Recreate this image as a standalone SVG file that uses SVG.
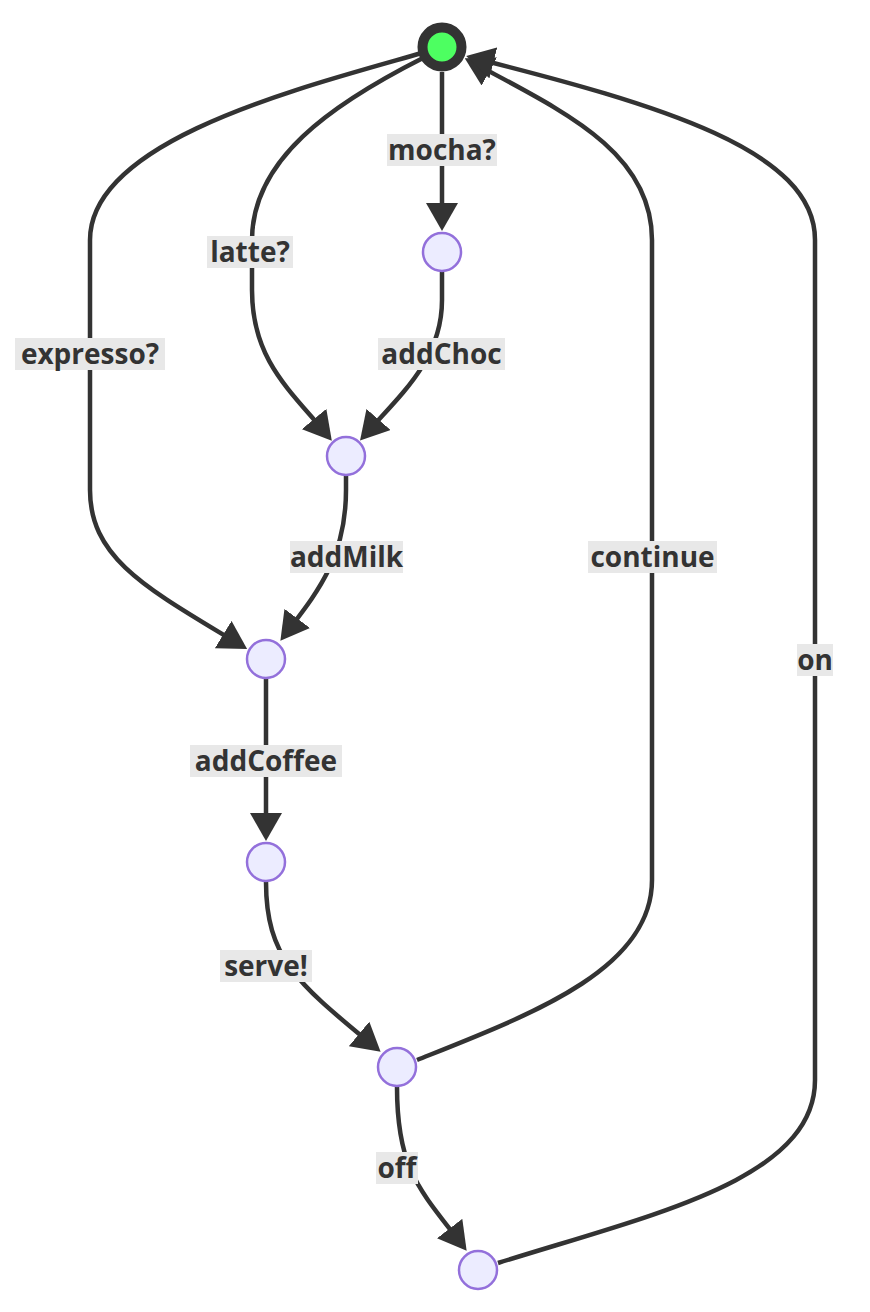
<svg xmlns="http://www.w3.org/2000/svg" width="870" height="1312" viewBox="0 0 870 1312">
<style>
.edge{fill:none;stroke:#333;stroke-width:4.5;marker-end:url(#arrow)}
.state{fill:#ececff;stroke:#9370db;stroke-width:2.5}
.lbg{fill:#e8e8e8}
.lbl{font-family:"Open Sans","Noto Sans",sans-serif;font-weight:bold;font-size:28px;fill:#333;text-anchor:middle}
</style>
<defs>
<marker id="arrow" viewBox="0 0 28 32" refX="22" refY="16" markerWidth="28" markerHeight="32" markerUnits="userSpaceOnUse" orient="auto">
<path d="M0,0 L28,16 L0,32 z" fill="#333"/>
</marker>
</defs>
<rect width="870" height="1312" fill="#fff"/>
<g id="connectors">
<path class="edge" d="M442,72 L442,225"/>
<path class="edge" d="M423,58 C330,105 252,160 252,240 L252,290 C252,360 290,390 328,436"/>
<path class="edge" d="M442,272 L442,300 C442,360 400,395 364,436"/>
<path class="edge" d="M422,53 C300,88 90,140 90,240 L90,490 C90,560 150,590 242,646"/>
<path class="edge" d="M346,476 L346,490 C346,560 315,595 284,636"/>
<path class="edge" d="M266,679 L266,835"/>
<path class="edge" d="M266,882 C266,960 300,985 376,1048"/>
<path class="edge" d="M417,1060 C530,1015 652,970 652,880 L652,240 C652,150 560,110 470,61"/>
<path class="edge" d="M397,1087 C397,1170 420,1190 463,1246"/>
<path class="edge" d="M498,1263 C650,1215 815,1180 815,1080 L815,240 C815,150 660,105 472,57.5"/>
</g>
<g id="labels">
<g id="label-mocha"><rect class="lbg" x="387" y="134" width="110" height="32"/><text class="lbl" x="442" y="160">mocha?</text></g>
<g id="label-latte"><rect class="lbg" x="207" y="236" width="86" height="32"/><text class="lbl" x="250" y="262">latte?</text></g>
<g id="label-addChoc"><rect class="lbg" x="378" y="338" width="127" height="32"/><text class="lbl" x="441.5" y="364">addChoc</text></g>
<g id="label-expresso"><rect class="lbg" x="15" y="338" width="150" height="32"/><text class="lbl" x="90" y="364">expresso?</text></g>
<g id="label-addMilk"><rect class="lbg" x="290" y="541" width="113" height="32"/><text class="lbl" x="346.5" y="567">addMilk</text></g>
<g id="label-addCoffee"><rect class="lbg" x="190" y="745" width="152" height="32"/><text class="lbl" x="266" y="771">addCoffee</text></g>
<g id="label-continue"><rect class="lbg" x="588" y="541" width="129" height="32"/><text class="lbl" x="652.5" y="567">continue</text></g>
<g id="label-on"><rect class="lbg" x="797" y="644" width="36" height="32"/><text class="lbl" x="815" y="670">on</text></g>
<g id="label-serve"><rect class="lbg" x="220" y="950" width="92" height="32"/><text class="lbl" x="266" y="976">serve!</text></g>
<g id="label-off"><rect class="lbg" x="376" y="1152" width="42" height="32"/><text class="lbl" x="397" y="1178">off</text></g>
</g>
<g id="start"><circle cx="442" cy="47" r="19.5" fill="#4dff61" stroke="#333" stroke-width="10"/></g>
<g id="s-mocha"><circle class="state" cx="442" cy="252" r="19"/></g>
<g id="s-milk"><circle class="state" cx="346" cy="456" r="19"/></g>
<g id="s-coffee"><circle class="state" cx="266" cy="659" r="19"/></g>
<g id="s-serve"><circle class="state" cx="266" cy="862" r="19"/></g>
<g id="s-served"><circle class="state" cx="397" cy="1067" r="19"/></g>
<g id="s-off"><circle class="state" cx="478" cy="1270" r="19"/></g>
</svg>
